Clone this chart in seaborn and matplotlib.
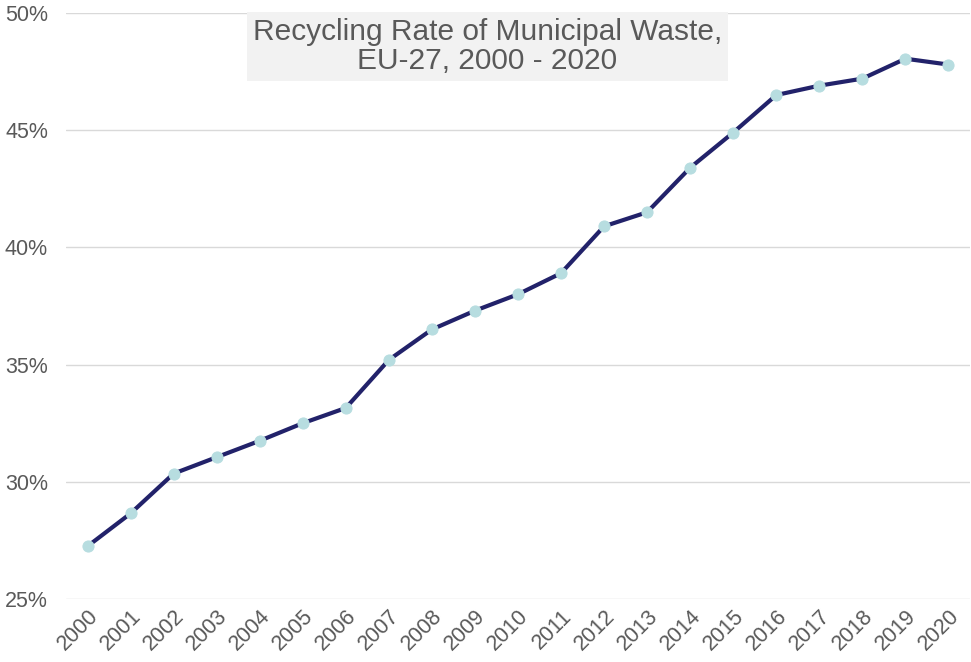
import pandas as pd
import matplotlib.pyplot as plt
import matplotlib.ticker as mtick
import seaborn as sns

years = list(range(2000, 2021))
rates = [27.25, 28.65, 30.35, 31.05, 31.75, 32.5, 33.15, 35.2, 36.5, 37.3, 38.0,
         38.9, 40.9, 41.5, 43.4, 44.9, 46.5, 46.9, 47.2, 48.05, 47.8]
title_lines = ['Recycling Rate of Municipal Waste,', 'EU-27, 2000 - 2020']

df = pd.DataFrame({'Year': years, 'Rate': rates})

sns.set_style('white')
plt.rcParams['font.family'] = ['Liberation Sans', 'DejaVu Sans']

fig = plt.figure(figsize=(9.71, 6.62), dpi=100)
ax = fig.add_axes([66 / 971, 1 - 599 / 662, 904 / 971, 586 / 662])

sns.lineplot(x='Year', y='Rate', data=df, color='#22226A', linewidth=3,
             marker='o', markersize=8, markerfacecolor='#B7DDE0',
             markeredgecolor='#B7DDE0', ax=ax, zorder=3)

ax.set_xlim(1999.5, 2020.5)
ax.set_ylim(25, 50)
ax.set_xticks(years)
ax.set_xticklabels([str(y) for y in years], rotation=45, ha='right',
                   rotation_mode='anchor')
ax.set_yticks([25, 30, 35, 40, 45, 50])
ax.yaxis.set_major_formatter(mtick.FuncFormatter(lambda v, p: f'{int(v)}%'))
ax.tick_params(axis='both', colors='#595959', labelsize=15.5, length=0)
ax.tick_params(axis='y', pad=13)
ax.tick_params(axis='x', pad=5)
ax.set_xlabel('')
ax.set_ylabel('')
ax.grid(axis='y', color='#D9D9D9', linewidth=1)
for s in ax.spines.values():
    s.set_visible(False)

fig.text(0.502, 0.930, '\n'.join(title_lines), ha='center', va='center',
         fontsize=21.5, color='#595959', linespacing=1.05,
         bbox=dict(facecolor='#F2F2F2', edgecolor='none', pad=4))

fig.savefig('out.png', dpi=100)
